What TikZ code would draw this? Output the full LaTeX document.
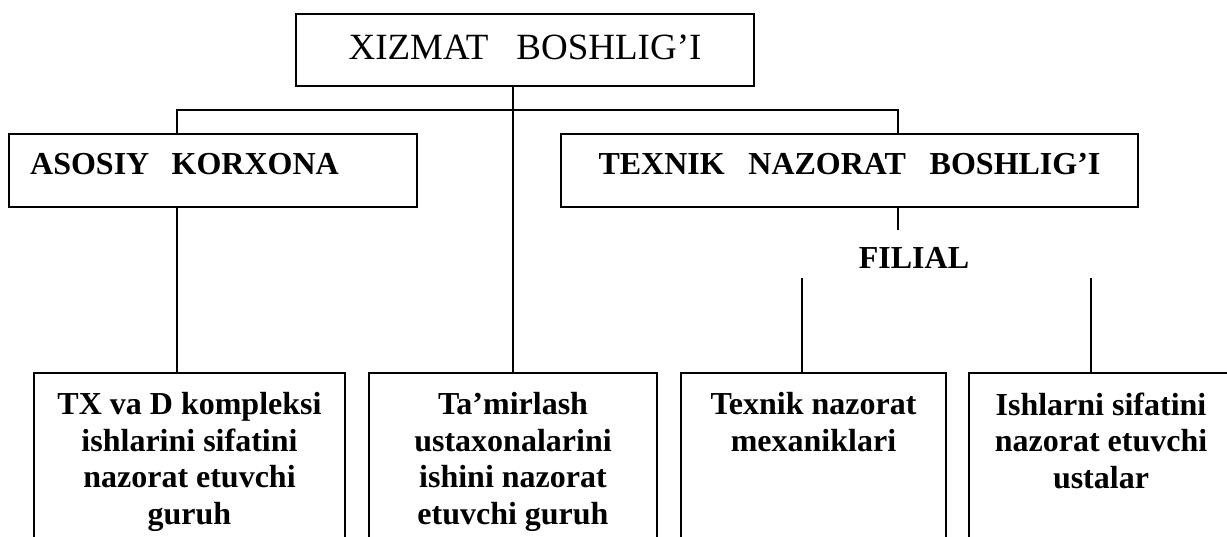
\documentclass[tikz,border=0pt]{standalone}
\usepackage{fontspec}
\setmainfont{Liberation Serif}
\begin{document}
\begin{tikzpicture}[x=1pt,y=-1pt,
  boxnode/.style={draw=black,line width=1.6pt,rectangle,inner sep=0pt,outer sep=0pt,anchor=north west},
  conn/.style={draw=black,line width=1.2pt},
  toptext/.style={font=\fontsize{37}{42}\selectfont,inner sep=0pt,anchor=base},
  boldtext/.style={font=\bfseries\fontsize{32}{36.5}\selectfont,inner sep=0pt},
  lowtext/.style={font=\bfseries\fontsize{32}{36.5}\selectfont,inner sep=0pt,align=center,anchor=north}]
\clip (0,0) rectangle (1227,537);
\fill[white] (0,0) rectangle (1227,537);
% boxes
\node[boxnode,minimum width=458pt,minimum height=72pt] (top) at (296,14) {};
\node[boxnode,minimum width=408pt,minimum height=73pt] (aso) at (9,134) {};
\node[boxnode,minimum width=577pt,minimum height=73pt] (tex) at (561,134) {};
\node[boxnode,minimum width=311pt,minimum height=250pt] (b1) at (34,373) {};
\node[boxnode,minimum width=288pt,minimum height=250pt] (b2) at (369,373) {};
\node[boxnode,minimum width=265pt,minimum height=250pt] (b3) at (681,373) {};
\node[boxnode,minimum width=264pt,minimum height=250pt] (b4) at (969,373) {};
% texts
\node[toptext] (ttop) at (525,60) {XIZMAT\hspace{0.76em}BOSHLIG’I};
\node[boldtext,anchor=base west] (taso) at (30,175) {ASOSIY\hspace{0.7em}KORXONA};
\node[boldtext,anchor=base] (ttex) at (849.5,175) {TEXNIK\hspace{0.74em}NAZORAT\hspace{0.74em}BOSHLIG’I};
\node[boldtext,anchor=base] (fil) at (914,269) {FILIAL};
\node[lowtext] (t1) at (189.5,392.5) {TX va D kompleksi\\ishlarini sifatini\\nazorat etuvchi\\guruh};
\node[lowtext] (t2) at (513,392.5) {Ta’mirlash\\ustaxonalarini\\ishini nazorat\\etuvchi guruh};
\node[lowtext] (t3) at (813.5,392.5) {Texnik nazorat\\mexaniklari};
\node[lowtext] (t4) at (1101,392.5) {Ishlarni sifatini\\nazorat etuvchi\\ustalar};
% connector coordinates
\coordinate (bl) at (177,110);
\coordinate (br) at (898,110);
\coordinate (fdown) at (898,230);
\coordinate (f3) at (802,278);
\coordinate (f4) at (1091,278);
% connectors
\draw[conn] (b2.north |- top.south) -- (b2.north);
\draw[conn] (aso.north -| bl) -- (bl) -- (br) -- (tex.north -| br);
\draw[conn] (aso.south -| bl) -- (b1.north -| bl);
\draw[conn] (tex.south -| br) -- (fdown);
\draw[conn] (f3) -- (f3 |- b3.north);
\draw[conn] (f4) -- (f4 |- b4.north);
\end{tikzpicture}
\end{document}
